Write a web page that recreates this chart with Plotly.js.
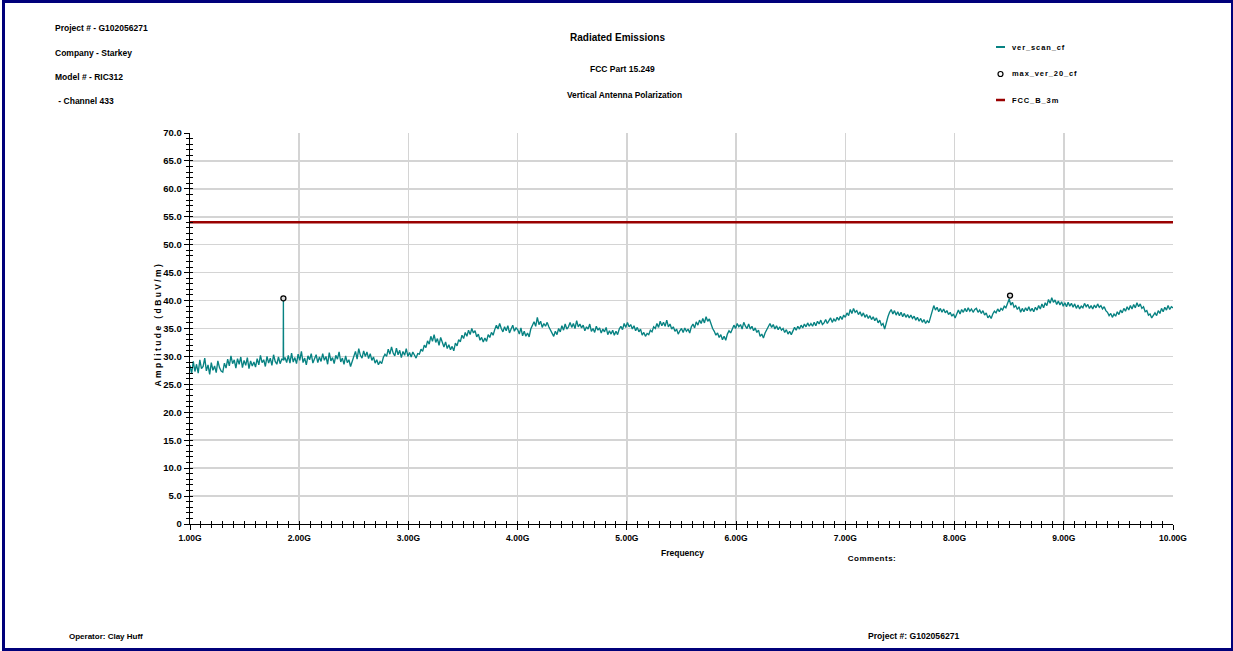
<!DOCTYPE html>
<html>
<head>
<meta charset="utf-8">
<script src="https://cdn.plot.ly/plotly-3.0.1.min.js"></script>
<style>
  html, body { margin:0; padding:0; background:#fff; }
  #wrap { position:relative; width:1233px; height:651px; }
  #chart { position:absolute; left:0; top:0; width:1233px; height:651px; }
  #frame { position:absolute; left:2px; top:0px; width:1226px; height:645px; border:3px solid #00007a; pointer-events:none; }
  .annotation[data-index="14"] .annotation-text { letter-spacing: 2.4px; }
  .annotation[data-index="7"] .annotation-text,
  .annotation[data-index="8"] .annotation-text,
  .annotation[data-index="9"] .annotation-text { letter-spacing: 0.9px; }
  .annotation[data-index="11"] .annotation-text { letter-spacing: 0.5px; }
</style>
</head>
<body>
<div id="wrap"><div id="chart"></div><div id="frame"></div></div>
<script>
// ---------------- data ----------------
// ver_scan_cf sweep: 1.000 GHz to 10.000 GHz, one reading every 0.015 GHz
const scanStartGHz = 1.0;
const scanStepGHz = 0.015;
const scanAmp = [
  28.4, 26.9, 29.1, 27.3, 28.6, 27.0, 29.4, 27.8, 28.2, 29.7, 27.4, 28.5, 26.8, 28.9, 27.5, 28.3, 27.1, 29.2, 28.0, 27.4,
  27.2, 28.8, 27.9, 29.5, 28.3, 30.1, 28.7, 29.4, 27.9, 29.6, 28.6, 29.9, 28.0, 29.3, 28.4, 29.8, 27.8, 29.2, 28.3, 29.0,
  28.1, 29.6, 28.5, 30.2, 28.9, 29.4, 28.2, 30.0, 28.8, 29.7, 28.4, 30.3, 29.1, 28.6, 29.9, 28.7, 29.5, 40.4, 29.8, 28.9,
  30.2, 28.8, 30.6, 29.0, 29.8, 28.7, 30.4, 29.3, 30.9, 28.9, 29.7, 28.5, 30.1, 29.4, 30.5, 28.8, 29.6, 30.3, 28.9, 29.9,
  29.1, 30.5, 29.3, 30.0, 28.6, 30.7, 29.2, 29.8, 28.7, 30.2, 29.5, 30.8, 29.0, 29.7, 28.6, 30.1, 28.9, 29.4, 28.2, 29.0,
  29.8, 30.9, 29.5, 31.4, 30.2, 29.7, 31.0, 30.0, 30.8, 29.6, 30.5, 29.3, 29.9, 28.8, 29.4, 28.5, 29.1, 28.7, 29.8, 30.4,
  30.0, 31.3, 30.4, 31.7, 30.6, 30.1, 31.5, 30.3, 31.1, 29.8, 30.9, 30.2, 31.4, 30.0, 30.7, 29.9, 30.8, 30.3, 29.7, 30.5,
  30.4, 31.3, 30.9, 32.0, 31.6, 32.8, 32.2, 33.6, 32.7, 33.9, 32.5, 33.2, 32.0, 33.4, 32.3, 31.7, 32.6, 31.4, 32.1, 31.2,
  31.8, 31.0, 32.4, 31.9, 33.0, 32.6, 33.8, 33.2, 34.3, 33.6, 34.7, 33.9, 35.0, 34.2, 34.6, 33.5, 34.0, 32.9, 33.4, 32.6,
  33.3, 32.7, 33.9, 33.4, 34.3, 33.8, 34.8, 35.6, 34.9, 35.9, 35.0, 34.4, 35.3, 34.6, 35.5, 34.2, 34.9, 35.6, 34.5, 35.1,
  34.8, 34.0, 35.1, 33.7, 34.5, 33.6, 34.2, 33.5, 34.9, 35.6, 36.2, 35.4, 37.0, 35.7, 36.3, 35.2, 35.9, 35.4, 36.1, 35.3,
  34.8, 34.2, 33.6, 34.5, 33.9, 35.0, 34.4, 35.5, 34.7, 35.8, 34.9, 35.3, 36.1, 35.2, 35.9, 35.0, 36.4, 35.3, 35.8, 35.1,
  35.6, 34.6, 35.3, 34.9, 35.8, 34.5, 35.0, 34.3, 35.4, 34.7, 35.1, 34.2, 34.9, 34.4, 35.2, 33.9, 34.6, 34.0, 34.7, 33.8,
  34.5, 33.9, 34.9, 35.4, 34.8, 35.9, 35.2, 36.1, 35.3, 35.7, 34.9, 35.5, 34.6, 35.2, 34.4, 34.9, 33.8, 34.3, 33.6, 34.1,
  33.9, 34.7, 34.4, 35.3, 35.0, 35.9, 35.2, 36.3, 35.5, 36.1, 35.4, 36.5, 35.3, 35.8, 34.9, 35.3, 34.5, 34.9, 34.0, 34.6,
  35.0, 34.3, 35.1, 34.5, 34.9, 34.2, 35.3, 35.8, 35.1, 36.2, 35.6, 36.5, 35.9, 36.8, 36.0, 37.1, 36.3, 36.7, 35.6, 35.0,
  34.5, 33.8, 34.2, 33.4, 33.9, 33.0, 33.6, 32.9, 34.0, 34.6, 34.2, 35.1, 35.6, 35.0, 35.9, 35.3, 35.7, 34.9, 36.1, 35.4,
  35.0, 35.8, 34.9, 35.4, 34.6, 35.1, 34.3, 34.7, 33.6, 34.0, 33.3, 34.2, 34.8, 35.4, 35.9, 35.2, 35.7, 34.9, 35.5, 34.8,
  35.3, 34.7, 35.0, 34.3, 34.8, 34.0, 34.5, 33.9, 34.6, 35.2, 34.7, 35.4, 34.9, 35.6, 35.1, 35.8, 35.3, 36.0, 35.4, 35.9,
  35.4, 36.1, 35.5, 36.3, 35.8, 36.5, 35.7, 36.0, 36.6, 35.9, 36.4, 36.9, 36.1, 36.7, 36.3, 37.0, 36.5, 37.2, 36.6, 37.4,
  37.0, 37.8, 37.3, 38.4, 37.7, 38.6, 37.9, 38.2, 37.5, 38.0, 37.2, 37.8, 37.0, 37.5, 36.8, 37.3, 36.6, 37.1, 36.4, 36.9,
  36.0, 36.5, 35.6, 35.9, 34.9, 36.2, 37.1, 37.9, 38.4, 37.6, 38.2, 37.4, 38.0, 37.3, 37.9, 37.1, 37.7, 37.0, 37.5, 36.9,
  37.4, 36.8, 37.2, 36.5, 37.0, 36.3, 36.8, 36.1, 36.6, 35.9, 36.4, 36.0, 37.2, 38.2, 39.1, 38.3, 38.8, 38.0, 38.6, 37.9,
  38.5, 37.8, 38.2, 37.5, 37.9, 37.2, 37.6, 36.9, 37.8, 38.3, 37.6, 38.4, 37.9, 38.6, 38.0, 38.7, 38.1, 38.5, 37.9, 38.4,
  38.6, 37.9, 38.3, 37.7, 38.2, 37.4, 37.8, 36.9, 37.3, 36.8, 37.6, 38.1, 37.8, 38.5, 38.0, 38.6, 38.3, 39.0, 38.7, 39.4,
  40.3, 39.2, 39.7, 38.8, 39.1, 38.4, 38.9, 37.9, 38.6, 38.0, 38.7, 38.2, 38.9, 38.1, 38.6, 38.0, 38.8, 38.3, 39.1, 38.5,
  39.4, 38.7, 39.6, 39.1, 40.2, 39.5, 40.5, 39.7, 40.1, 39.3, 39.9, 39.2, 39.8, 39.0, 39.6, 38.9, 39.7, 39.0, 39.5, 38.8,
  39.4, 38.6, 39.2, 38.5, 39.0, 38.7, 39.5, 38.9, 39.3, 38.6, 39.1, 38.5, 39.2, 38.7, 39.4, 38.8, 39.1, 38.5, 38.9, 38.2,
  37.9, 37.3, 37.7, 37.0, 37.6, 37.2, 38.0, 37.5, 38.3, 37.8, 38.6, 38.1, 38.9, 38.3, 39.1, 38.5, 39.3, 38.7, 39.6, 38.9,
  39.4, 38.6, 38.9, 38.0, 38.2, 37.4, 37.6, 36.9, 37.5, 37.8, 37.3, 38.2, 37.7, 38.6, 38.0, 38.8, 38.3, 39.1, 38.4, 38.9,
  38.7
];
// shoulders of the narrow spike at 1.855 GHz (extra sweep readings)
const spikeFreqGHz = [1.8535, 1.8565];
const spikeAmp = [29.4, 29.3];

// max_ver_20_cf markers
const maxFreqGHz = [1.855, 8.508];
const maxAmp = [40.4, 40.9];

// FCC_B_3m limit line
const limitFreqGHz = [1.0, 10.0];
const limitAmp = [54.0, 54.0];

// axis ticks
const xTickVals = [1, 2, 3, 4, 5, 6, 7, 8, 9, 10];
const xTickText = ['1.00G','2.00G','3.00G','4.00G','5.00G','6.00G','7.00G','8.00G','9.00G','10.00G'];
const yTickVals = [0, 5, 10, 15, 20, 25, 30, 35, 40, 45, 50, 55, 60, 65, 70];
const yTickText = ['0','5.0','10.0','15.0','20.0','25.0','30.0','35.0','40.0','45.0','50.0','55.0','60.0','65.0','70.0'];

// ---------------- build the sweep trace ----------------
let pts = scanAmp.map((v, i) => [+(scanStartGHz + i * scanStepGHz).toFixed(4), v]);
spikeFreqGHz.forEach((f, i) => pts.push([f, spikeAmp[i]]));
pts.sort((a, b) => a[0] - b[0]);
const scanX = pts.map(p => p[0]);
const scanY = pts.map(p => p[1]);

// minor tick positions (axis decoration)
const xMinor = [], yMinor = [];
for (let i = 0; i <= 90; i++) xMinor.push(+(1 + i * 0.1).toFixed(2));
for (let i = 0; i <= 70; i++) yMinor.push(i);

// ---------------- layout helpers ----------------
const W = 1233, H = 651;
const M = { l: 190, r: 60, t: 133, b: 127 };
const pw = W - M.l - M.r, ph = H - M.t - M.b;
const px = x => (x - M.l) / pw;          // pixel -> paper x
const py = y => (H - M.b - y) / ph;      // pixel -> paper y

const FONT = '"Liberation Sans", Arial, sans-serif';
const TEAL = '#078282';
const RED = '#990000';

const traces = [
  { x: scanX, y: scanY, type: 'scatter', mode: 'lines', name: 'ver_scan_cf',
    line: { color: TEAL, width: 1.35 }, showlegend: false },
  { x: limitFreqGHz, y: limitAmp, type: 'scatter', mode: 'lines', name: 'FCC_B_3m',
    line: { color: RED, width: 2.5 }, showlegend: false },
  { x: maxFreqGHz, y: maxAmp, type: 'scatter', mode: 'markers', name: 'max_ver_20_cf',
    marker: { symbol: 'circle', size: 5, color: '#dddddd', line: { color: '#000000', width: 1.3 } },
    showlegend: false },
  { x: [1], y: [0], xaxis: 'x2', yaxis: 'y2', type: 'scatter', mode: 'none', showlegend: false, hoverinfo: 'skip' },
  { x: [1], y: [0], xaxis: 'x3', yaxis: 'y3', type: 'scatter', mode: 'none', showlegend: false, hoverinfo: 'skip' }
];

const txtFont = (s) => ({ family: FONT, size: s, color: '#000', weight: 'bold' });

const ann = (x, y, text, size, anchor) => ({
  xref: 'paper', yref: 'paper', x: px(x), y: py(y), text: text, showarrow: false,
  xanchor: anchor || 'left', yanchor: 'middle', align: anchor || 'left', font: txtFont(size)
});

const annotations = [
  ann(53, 28, 'Project # - G102056271', 8.5),
  ann(53, 53, 'Company - Starkey', 8.5),
  ann(53, 77, 'Model # - RIC312', 8.5),
  ann(54, 101, ' - Channel 433', 8.5),
  ann(617, 37, 'Radiated Emissions', 10),
  ann(622, 69, 'FCC Part 15.249', 8.5, 'center'),
  ann(624, 95, 'Vertical Antenna Polarization', 8.4, 'center'),
  ann(1010, 47, 'ver_scan_cf', 7.5),
  ann(1010, 74, 'max_ver_20_cf', 7.5),
  ann(1010, 100, 'FCC_B_3m', 7.5),
  ann(682, 553, 'Frequency', 8.5, 'center'),
  ann(872, 558, 'Comments:', 8, 'center'),
  ann(67, 636, 'Operator: Clay Huff', 8),
  ann(866, 636, 'Project #: G102056271', 8.6),
  Object.assign(ann(158, 324, 'Amplitude (dBuV/m)', 8.5, 'center'), { textangle: -90 })
];
// title centred
annotations[4].xanchor = 'center'; annotations[4].align = 'center';

const shapes = [
  { type: 'line', xref: 'paper', yref: 'paper', x0: px(996), x1: px(1005), y0: py(47), y1: py(47),
    line: { color: TEAL, width: 2 } },
  { type: 'line', xref: 'paper', yref: 'paper', x0: px(996), x1: px(1005), y0: py(100), y1: py(100),
    line: { color: RED, width: 2.5 } },
  { type: 'circle', xref: 'paper', yref: 'paper', x0: px(998), x1: px(1003), y0: py(71.5), y1: py(76.5),
    line: { color: '#000', width: 1.2 }, fillcolor: '#fff' }
];

const tickAxis = (range, vals, side, len) => ({
  range: range, tickmode: 'array', tickvals: vals, showticklabels: false,
  showgrid: false, zeroline: false, showline: false,
  ticks: side, ticklen: len, tickwidth: 1, tickcolor: '#000', fixedrange: true
});

const layout = {
  width: W, height: H,
  margin: M,
  paper_bgcolor: '#ffffff', plot_bgcolor: '#ffffff',
  showlegend: false,
  xaxis: {
    range: [1, 10], tickmode: 'array', tickvals: xTickVals, ticktext: xTickText,
    showgrid: true, gridcolor: '#d4d4d4', gridwidth: 1.5,
    zeroline: false, showline: true, linecolor: '#000', linewidth: 1.3,
    ticks: 'outside', ticklen: 5, tickwidth: 1, tickcolor: '#000',
    tickfont: txtFont(8.5), fixedrange: true
  },
  yaxis: {
    range: [0, 70], tickmode: 'array', tickvals: yTickVals, ticktext: yTickText,
    showgrid: true, gridcolor: '#d4d4d4', gridwidth: 1.5,
    zeroline: false, showline: true, linecolor: '#000', linewidth: 1.3,
    ticks: 'outside', ticklen: 5, tickwidth: 1, tickcolor: '#000',
    tickfont: txtFont(9.5), fixedrange: true
  },
  xaxis2: Object.assign(tickAxis([1, 10], xMinor, 'inside', 3), { overlaying: 'x', anchor: 'y2', side: 'bottom' }),
  yaxis2: Object.assign(tickAxis([0, 70], yMinor, 'inside', 3), { overlaying: 'y', anchor: 'x2', side: 'left' }),
  xaxis3: Object.assign(tickAxis([1, 10], xMinor, 'outside', 3), { overlaying: 'x', anchor: 'y3', side: 'bottom' }),
  yaxis3: Object.assign(tickAxis([0, 70], yMinor, 'outside', 3), { overlaying: 'y', anchor: 'x3', side: 'left' }),
  annotations: annotations,
  shapes: shapes
};

Plotly.newPlot('chart', traces, layout, { displayModeBar: false, staticPlot: true });
</script>
</body>
</html>
